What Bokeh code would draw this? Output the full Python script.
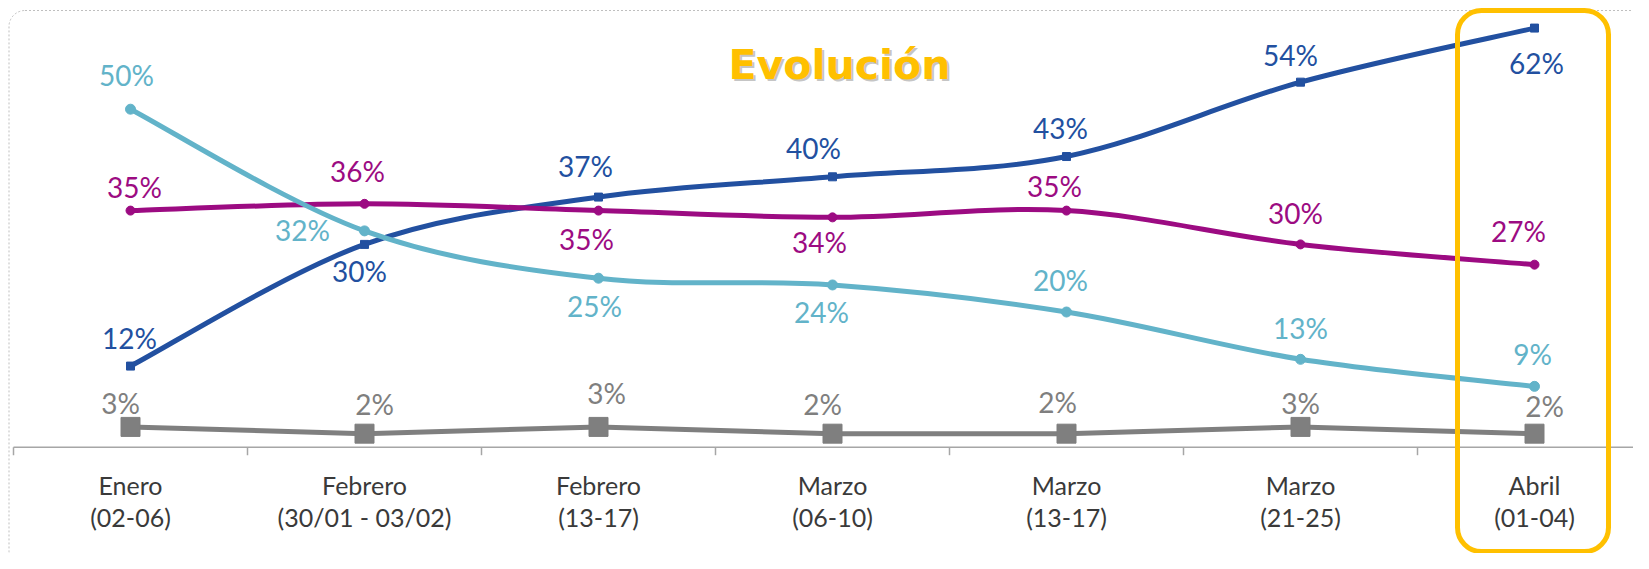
import numpy as np
from bokeh.plotting import figure
from bokeh.models import Range1d, BoxAnnotation, Label
from bokeh.core.properties import value
from bokeh.embed import file_html
from bokeh.resources import INLINE

# ---------------- data ----------------
cat_month = ["Enero", "Febrero", "Febrero", "Marzo", "Marzo", "Marzo", "Abril"]
cat_dates = ["(02-06)", "(30/01 - 03/02)", "(13-17)", "(06-10)", "(13-17)", "(21-25)", "(01-04)"]
serie_azul = [12, 30, 37, 40, 43, 54, 62]
serie_magenta = [35, 36, 35, 34, 35, 30, 27]
serie_celeste = [50, 32, 25, 24, 20, 13, 9]
serie_gris = [3, 2, 3, 2, 2, 3, 2]
title_text = "Evolución"
highlight_index = 6

# ---------------- label offsets (screen px) ----------------
off_azul = [(-1, -28), (-5, 27), (-13, -31), (-19, -29), (-6, -29), (-10, -27), (2, 35)]
off_magenta = [(4, -24), (-7, -33), (-12, 28), (-13, 25), (-12, -25), (-5, -31), (-16, -34)]
off_celeste = [(-4, -34), (-62, -1), (-4, 28), (-11, 27), (-6, -32), (0, -31), (-2, -32)]
off_gris = [(-10, -24), (10, -30), (8, -34), (-10, -30), (-9, -32), (0, -24), (10, -28)]

# ---------------- colours ----------------
C_AZUL = "#2250A0"
C_MAG = "#9C0B82"
C_CEL = "#62B3C9"
C_GRIS = "#7F7F7F"
C_AXIS = "#A6A6A6"
C_TXT = "#3A3A3A"
C_YEL = "#FFC000"

# ---------------- geometry ----------------
W, H = 1633, 553
PX0, PXS = 130.0, 234.0     # x of first category, px per category
PY0, PYS = 446.7, 6.76      # y of value 0, px per percent


def xd(px):
    return (px - PX0) / PXS


def yd(py):
    return (PY0 - py) / PYS


p = figure(width=W, height=H, output_backend="svg", toolbar_location=None,
           x_range=Range1d(xd(0), xd(W)), y_range=Range1d(yd(H), yd(0)),
           x_axis_location=None, y_axis_location=None, min_border=0,
           outline_line_color=None, background_fill_color="white",
           border_fill_color="white")
p.grid.visible = False

# outer dotted frame
p.add_layout(BoxAnnotation(left=xd(8.5), right=xd(1700), top=yd(10), bottom=yd(566),
                           fill_alpha=0, line_color="#BFBFBF", line_alpha=1, line_width=1,
                           line_dash="2 2", border_radius=16, level="underlay"))

xs = list(range(len(cat_month)))

# category axis
p.segment(x0=[xs[0] - 0.5], y0=[0], x1=[xs[-1] + 0.8], y1=[0], line_color=C_AXIS, line_width=1.5)
bounds = [x - 0.5 for x in xs] + [xs[-1] + 0.5]
p.segment(x0=bounds, y0=[0] * len(bounds), x1=bounds, y1=[-8 / PYS] * len(bounds),
          line_color=C_AXIS, line_width=1.5)
p.text(x=xs, y=[0] * len(xs), text=cat_month, y_offset=38, text_font=value("Lato"),
       text_font_size="25px", text_color=C_TXT, text_align="center", text_baseline="middle")
p.text(x=xs, y=[0] * len(xs), text=cat_dates, y_offset=70, text_font=value("Lato"),
       text_font_size="25px", text_color=C_TXT, text_align="center", text_baseline="middle")


def smooth(vals):
    n = len(vals)
    d = dict(x0=[], y0=[], x1=[], y1=[], cx0=[], cy0=[], cx1=[], cy1=[])
    for i in range(n - 1):
        a, b = max(i - 1, 0), min(i + 2, n - 1)
        d["x0"].append(i); d["y0"].append(vals[i])
        d["x1"].append(i + 1); d["y1"].append(vals[i + 1])
        d["cx0"].append(i + (i + 1 - a) / 6); d["cy0"].append(vals[i] + (vals[i + 1] - vals[a]) / 6)
        d["cx1"].append(i + 1 - (b - i) / 6); d["cy1"].append(vals[i + 1] - (vals[b] - vals[i]) / 6)
    return d


# gray series (straight)
p.line(xs, serie_gris, line_color=C_GRIS, line_width=5)
p.scatter(xs, serie_gris, marker="square", size=19, fill_color=C_GRIS, line_color=C_GRIS)

for vals, col, marker, msize in [(serie_azul, C_AZUL, "square", 8),
                                 (serie_magenta, C_MAG, "circle", 9),
                                 (serie_celeste, C_CEL, "circle", 10)]:
    p.bezier(**smooth(vals), line_color=col, line_width=5)
    p.scatter(xs, vals, marker=marker, size=msize, fill_color=col, line_color=col)

for vals, col, offs in [(serie_azul, C_AZUL, off_azul), (serie_magenta, C_MAG, off_magenta),
                        (serie_celeste, C_CEL, off_celeste), (serie_gris, C_GRIS, off_gris)]:
    p.text(x=xs, y=vals, text=[f"{v}%" for v in vals],
           x_offset=[o[0] for o in offs], y_offset=[o[1] for o in offs],
           text_font=value("Lato"), text_font_size="28px", text_color=col,
           text_align="center", text_baseline="middle")

# highlight box around last category
p.add_layout(BoxAnnotation(left=highlight_index - 77 / PXS, right=highlight_index + 74 / PXS,
                           top=yd(10), bottom=yd(551), fill_alpha=0, line_color=C_YEL,
                           line_alpha=1, line_width=5, border_radius=24))

# title with shadow
tx, ty = 839, H - 64
p.add_layout(Label(x=tx + 2, y=ty - 2, x_units="screen", y_units="screen", text=title_text,
                   text_font="DejaVu Sans", text_font_style="bold", text_font_size="41px",
                   text_color="#9E9E9E", text_alpha=0.6, text_align="center", text_baseline="middle"))
p.add_layout(Label(x=tx, y=ty, x_units="screen", y_units="screen", text=title_text,
                   text_font="DejaVu Sans", text_font_style="bold", text_font_size="41px",
                   text_color=C_YEL, text_align="center", text_baseline="middle"))

open("out.html", "w").write(file_html(p, INLINE))
